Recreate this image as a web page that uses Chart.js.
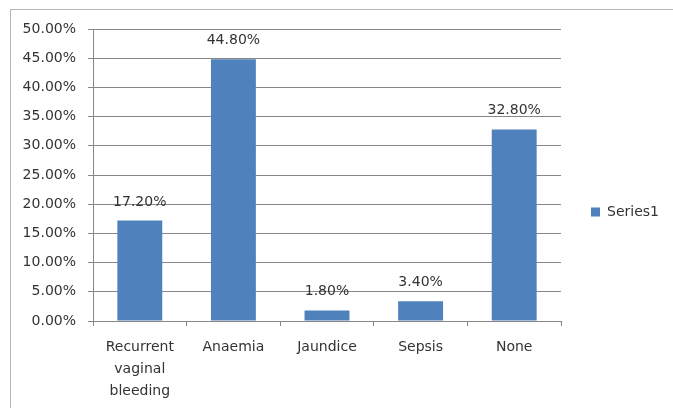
<!DOCTYPE html>
<html>
<head>
<meta charset="utf-8">
<script src="https://cdn.jsdelivr.net/npm/chart.js@4/dist/chart.umd.min.js"></script>
<style>
  html, body { margin: 0; padding: 0; background: #ffffff; }
  #wrap { width: 673px; height: 408px; }
</style>
</head>
<body>
<div id="wrap"><canvas id="c" width="673" height="408"></canvas></div>
<script>
const categories = [["Recurrent", "vaginal", "bleeding"], "Anaemia", "Jaundice", "Sepsis", "None"];
const seriesName = "Series1";
const seriesValues = [17.2, 44.8, 1.8, 3.4, 32.8];
const yTickValues = [0, 5, 10, 15, 20, 25, 30, 35, 40, 45, 50];

const FONT = "'DejaVu Sans', sans-serif";
const TEXT = "#333333";
const GRID = "#878787";
const BAR = "#4f81bd";

const pctLabel = v => Number(v).toFixed(2) + "%";

const frame = {
  id: "frame",
  beforeDraw(chart) {
    const ctx = chart.ctx;
    ctx.save();
    ctx.fillStyle = "#ffffff";
    ctx.fillRect(0, 0, chart.width, chart.height);
    ctx.strokeStyle = "#b5b5b5";
    ctx.lineWidth = 1;
    ctx.strokeRect(10.5, 9.5, chart.width + 20, chart.height + 20);
    ctx.restore();
  }
};

const valueLabels = {
  id: "valueLabels",
  afterDatasetsDraw(chart) {
    const ctx = chart.ctx;
    const meta = chart.getDatasetMeta(0);
    ctx.save();
    ctx.font = "14px " + FONT;
    ctx.fillStyle = TEXT;
    ctx.textAlign = "center";
    ctx.textBaseline = "alphabetic";
    meta.data.forEach((bar, i) => {
      ctx.fillText(pctLabel(chart.data.datasets[0].data[i]), bar.x, bar.y - 15);
    });
    ctx.restore();
  }
};

new Chart(document.getElementById("c"), {
  type: "bar",
  data: {
    labels: categories,
    datasets: [{
      label: seriesName,
      data: seriesValues,
      backgroundColor: BAR,
      borderWidth: 0,
      categoryPercentage: 1,
      barPercentage: 0.48
    }]
  },
  options: {
    responsive: false,
    animation: false,
    devicePixelRatio: 1,
    layout: { padding: { top: 16, bottom: 0, left: 0, right: 5 } },
    plugins: {
      legend: {
        position: "right",
        maxWidth: 107,
        labels: {
          boxWidth: 9,
          boxHeight: 9,
          padding: 30,
          color: TEXT,
          font: { family: FONT, size: 14 }
        }
      },
      tooltip: { enabled: false }
    },
    scales: {
      x: {
        offset: true,
        grid: {
          offset: true,
          drawOnChartArea: false,
          drawTicks: true,
          tickLength: 5,
          color: GRID
        },
        border: { color: GRID, width: 1 },
        ticks: {
          color: TEXT,
          padding: 11,
          maxRotation: 0,
          autoSkip: false,
          font: { family: FONT, size: 14, lineHeight: 1.55 }
        },
        afterFit(scale) { scale.height = 87; }
      },
      y: {
        min: 0,
        max: 50,
        afterBuildTicks(scale) { scale.ticks = yTickValues.map(v => ({ value: v })); },
        grid: { color: GRID, tickLength: 5, drawTicks: true },
        border: { color: GRID, width: 1 },
        ticks: {
          color: TEXT,
          padding: 12,
          font: { family: FONT, size: 14 },
          callback: v => pctLabel(v)
        },
        afterFit(scale) { scale.width = 93; scale.paddingTop = 29; }
      }
    }
  },
  plugins: [frame, valueLabels]
});
</script>
</body>
</html>
